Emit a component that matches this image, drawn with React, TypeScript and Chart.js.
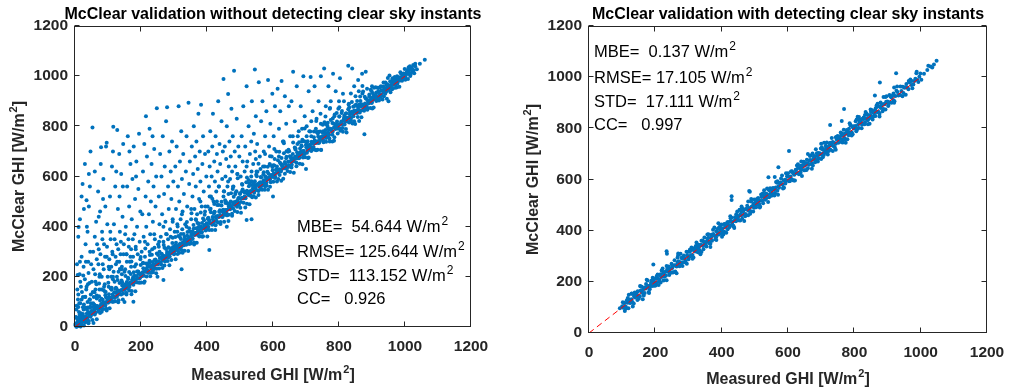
import React, { useEffect, useRef } from "react";
import { Chart, registerables } from "chart.js";

Chart.register(...registerables);

const FONT = '"Liberation Sans", Arial, Helvetica, sans-serif';
const AXIS_COLOR = "#262626";
const POINT_COLOR = "#0072BD";

// axis ticks (both axes, both panels)
const tickValues = [0, 200, 400, 600, 800, 1000, 1200];
// 1:1 reference line end points (measured = McClear)
const refLine = [0, 1000];

const leftTitle = "McClear validation without detecting clear sky instants";
const rightTitle = "McClear validation with detecting clear sky instants";
const xTitle = "Measured GHI [W/m";
const yTitle = "McClear GHI [W/m";

const leftStats = ["MBE=  54.644", "RMSE= 125.644", "STD=  113.152", "CC=   0.926"];
const rightStats = ["MBE=  0.137", "RMSE= 17.105", "STD=  17.111", "CC=   0.997"];
const statHasUnit = [true, true, true, false];

// ---------- LEFT PANEL: [measured, mcclear] ----------
const leftScatter: [number, number][] = [
  [3,40],[5,85],[8,20],[10,130],[12,60],[14,210],[16,95],[18,160],[20,280],[22,45],[24,120],[26,240],[28,75],[30,190],[32,330],[34,150],[36,400],[38,100],[40,260],[42,480],[44,175],[46,300],[48,130],[10,360],[15,430],[20,520],[23,570],[30,650],[35,505],[42,610],[45,560],[6,250],[27,470],[38,380],[47,700],[11,399],[15,260],[8,207],
  [52,55],[54,140],[56,230],[58,90],[60,360],[62,180],[64,420],[66,270],[68,120],[70,540],[72,310],[74,200],[76,460],[78,650],[80,150],[82,380],[84,250],[86,590],[88,330],[90,170],[92,480],[94,720],[96,280],[98,410],[53,795],[79,717],[96,735],[60,620],[85,510],[72,440],
  [102,160],[104,230],[106,520],[108,350],[110,200],[112,640],[114,290],[116,798],[118,410],[120,180],[122,560],[124,250],[126,330],[128,785],[130,470],[132,220],[134,690],[136,380],[138,290],[140,610],[142,240],[144,440],[146,730],[148,330],[115,700],[125,620],[135,520],[145,560],
  [152,230],[154,400],[156,290],[158,560],[160,760],[162,350],[164,480],[166,260],[168,650],[170,310],[172,430],[174,590],[176,280],[178,720],[180,370],[182,510],[184,320],[186,660],[188,400],[190,290],[192,550],[194,770],[196,340],[198,460],[165,700],[185,600],
  [202,300],[204,450],[206,620],[208,360],[210,730],[212,280],[214,520],[216,400],[218,680],[220,330],[222,580],[224,450],[226,790],[228,370],[230,500],[232,650],[234,310],[236,420],[238,560],[240,710],[242,350],[244,480],[246,600],[248,872],[215,840],[235,760],
  [252,330],[254,520],[256,410],[258,690],[260,360],[262,600],[264,450],[266,760],[268,340],[270,530],[272,640],[274,420],[276,820],[278,370],[279,876],[282,560],[284,470],[286,700],[288,390],[290,620],[292,510],[294,740],[296,430],[298,580],
  [302,380],[304,640],[306,470],[308,720],[310,410],[312,560],[314,880],[316,500],[318,660],[320,430],[322,780],[324,590],[326,460],[328,690],[330,530],[334,410],[336,620],[338,760],[340,480],[344,894],[346,570],[348,660],
  [352,430],[354,720],[356,520],[358,610],[360,800],[362,470],[364,680],[366,560],[368,740],[370,450],[372,630],[374,850],[376,510],[378,700],[380,580],[382,886],[384,480],[386,650],[388,760],[390,540],[394,690],[398,600],
  [402,480],[404,700],[406,560],[408,640],[410,780],[412,520],[414,600],[416,720],[418,850],[420,500],[422,660],[424,580],[426,760],[428,540],[430,690],[432,620],[434,900],[436,560],[438,730],[440,650],[444,820],[446,590],[448,700],[450,989],
  [452,540],[454,720],[456,600],[458,670],[460,800],[462,560],[464,929],[466,640],[468,740],[470,590],[472,680],[474,870],[476,620],[478,760],[480,560],[482,1022],[484,700],[486,640],[490,830],[492,610],[495,720],[498,680],
  [502,600],[505,760],[508,660],[510,880],[514,620],[516,720],[520,960],[522,660],[526,800],[530,690],[534,740],[536,900],[540,650],[542,770],[545,1027],[546,700],[548,840],[550,620],
  [552,730],[557,976],[560,680],[564,820],[568,900],[572,700],[576,760],[580,860],[585,985],[588,720],[592,810],[596,680],[598,930],[575,640],
  [602,760],[606,880],[610,700],[614,950],[618,790],[622,860],[626,981],[630,740],[636,920],[640,810],[645,700],[648,880],
  [652,760],[656,900],[661,1018],[666,820],[672,960],[678,780],[684,880],[692,1000],[696,840],[688,740],
  [702,800],[708,940],[714,997],[720,860],[726,960],[732,830],[738,900],[745,1000],
  [755,1031],[760,880],[768,960],[775,900],[782,1010],[790,940],[798,870],
  [803,992],[812,930],[828,1042],[840,1031],[846,960],[858,985],[870,1010],[881,1018],
];

const leftLowBlob: [number, number][] = [
  [4,70],[7,150],[9,110],[13,95],[16,180],[18,55],[21,140],[25,205],[27,90],[31,120],[33,260],[36,70],[39,170],[41,215],[44,110],[49,250],[51,180],[55,300],[57,120],[61,210],[65,170],[67,330],[71,250],[74,150],[77,290],[81,200],[83,350],[87,230],[91,280],[93,140],[97,320],[99,200],[104,270],[107,380],[110,240],[113,300],[117,220],[120,350],[123,280],[127,200],[131,310],[134,260],[139,340],[141,230],[147,290],[152,370],[157,260],[163,320],[168,280],[175,350],
];

const leftNearBand: [number, number][] = [
  [20,110],[35,160],[48,95],[62,150],[75,210],[88,160],[102,240],[115,190],[128,260],[142,210],[156,290],[170,240],[184,310],[198,270],[212,340],[226,300],[240,370],[254,320],[268,400],[282,350],[296,420],[310,380],[324,450],[338,400],[352,470],[366,430],[380,500],[394,460],[408,520],[422,490],[436,560],[450,520],[464,580],[478,550],[492,610],[506,570],[520,640],[534,600],[548,670],[562,630],[576,690],[590,650],[604,710],[618,680],[632,740],[646,700],[660,760],[674,730],[688,790],[702,760],[716,820],[730,790],[744,850],[758,810],[772,870],[786,840],[800,900],[830,890],[860,940],[900,960],
];

const leftBelow: [number, number][] = [
  [877,768],[520,427],[535,430],[407,307],[268,187],[177,101],[323,230],[600,520],[700,630],[250,200],[150,100],[460,400],[780,740],[950,900],
];

const leftUpperBandX = [
  3,10,17,24,31,38,45,52,59,66,73,80,87,94,101,108,115,122,129,136,
  143,150,157,164,171,178,185,192,199,206,213,220,227,234,241,248,255,262,269,276,
  283,290,297,304,311,318,325,332,339,346,353,360,367,374,381,388,395,402,409,416,
  423,430,437,444,451,458,465,472,479,486,493,500,507,514,521,528,535,542,549,556,
  563,570,577,584,591,598,605,612,619,626,633,640,647,654,661,668,675,682,689,696,
  703,710,717,724,731,738,745,752,759,766,773,780,787,794,801,808,815,822,829,836,
  843,850,857,864,871,878,885,892,899,906,913,920,927,934,941,948,955,962,969,976,
];
const leftUpperBandY = [
  38,80,39,79,121,78,110,80,139,114,173,113,147,119,176,153,200,152,187,231,
  178,220,179,219,261,218,250,220,279,254,313,253,287,259,316,293,340,292,327,371,
  318,360,319,359,401,358,390,360,419,394,453,393,427,399,456,433,480,432,467,511,
  458,500,459,499,541,498,530,500,559,534,593,533,567,539,596,573,620,572,607,651,
  598,640,599,639,681,638,670,640,699,674,733,673,707,679,736,713,760,712,747,791,
  738,780,739,779,821,778,810,780,839,814,873,813,847,819,876,853,900,852,887,931,
  878,920,879,919,961,918,950,920,940,954,935,953,960,959,975,993,980,992,990,1000,
];

const leftMixX = [
  6,11,16,21,26,31,36,41,46,51,56,61,66,71,76,81,86,91,96,101,106,111,116,
  121,126,131,136,141,146,151,156,161,166,171,176,181,186,191,196,201,206,211,216,221,226,231,
  236,241,246,251,256,261,266,271,276,281,286,291,296,301,306,311,316,321,326,331,336,341,346,
  351,356,361,366,371,376,381,386,391,396,401,406,411,416,421,426,431,436,441,446,451,456,461,
  466,471,476,481,486,491,496,501,506,511,516,521,526,531,536,541,546,551,556,561,566,571,576,
  581,586,591,596,601,606,611,616,621,626,631,636,641,646,651,656,661,666,671,676,681,686,691,
  696,701,706,711,716,721,726,731,736,741,746,751,756,761,766,771,776,781,786,791,796,801,806,
  811,816,821,826,831,836,841,846,851,856,861,866,871,876,881,886,891,896,901,906,911,916,921,
  926,931,936,941,946,951,956,961,966,971,976,981,986,991,996,1001,1006,1011,1016,1021,1026,1031,1036,
];
const leftMixY = [
  2,37,3,29,70,19,54,15,81,53,16,83,126,63,106,61,98,141,66,117,102,149,101,
  103,152,99,144,185,134,169,130,196,168,131,198,241,178,221,176,213,256,181,232,217,264,216,
  218,267,214,259,300,249,284,245,311,283,246,313,356,293,336,291,328,371,296,347,332,379,331,
  333,382,329,374,415,364,399,360,426,398,361,428,471,408,451,406,443,486,411,462,447,494,446,
  448,497,444,489,530,479,514,475,541,513,476,543,586,523,566,521,558,601,526,577,562,609,561,
  563,612,559,604,645,594,629,590,656,628,591,658,701,638,681,636,673,716,641,692,677,724,676,
  678,727,674,719,760,709,744,705,771,743,706,773,816,753,796,751,788,831,756,807,792,839,791,
  793,842,789,834,875,824,859,820,886,858,821,888,931,868,911,866,903,946,871,922,907,954,906,
  917,944,920,945,968,945,965,948,984,972,956,992,1016,987,1011,991,1012,1036,1001,1029,1024,1050,1028,
];

const leftBand: [number, number][] = [
  [2,14],[5,3],[7,32],[9,4],[12,17],[14,49],[17,2],[19,37],[22,19],[24,52],[27,6],[29,38],[32,77],[34,22],[37,39],[40,60],[42,24],[45,77],[47,41],[50,64],[53,28],[55,95],[58,65],[60,50],[63,85],[66,31],[68,84],[71,74],[73,123],[76,56],
  [79,91],[81,73],[84,109],[87,72],[89,94],[92,127],[95,73],[97,115],[100,97],[103,131],[105,75],[108,117],[111,156],[113,101],[116,118],[119,139],[121,103],[124,156],[127,121],[129,143],[132,107],[135,175],[137,144],[140,130],[143,165],[145,110],[148,164],[151,154],[153,203],[156,136],
  [159,154],[161,191],[164,146],[167,177],[169,211],[172,144],[175,190],[177,168],[180,204],[183,143],[185,191],[188,221],[191,177],[193,212],[196,194],[199,247],[201,177],[204,215],[207,234],[209,176],[212,220],[215,253],[217,201],[220,241],[223,216],[225,255],[228,202],[231,244],[233,288],[236,225],
  [239,251],[241,233],[244,269],[247,232],[249,254],[252,287],[255,233],[257,275],[260,257],[263,291],[265,235],[268,277],[271,316],[273,261],[276,278],[279,299],[281,263],[284,316],[287,281],[289,303],[292,267],[295,335],[297,304],[300,290],[303,325],[305,270],[308,324],[311,314],[313,363],[316,296],
  [319,314],[321,351],[324,306],[327,337],[329,371],[332,304],[335,350],[337,328],[340,364],[343,303],[345,351],[348,381],[351,337],[353,372],[356,354],[359,407],[361,337],[364,375],[367,394],[369,336],[372,380],[375,413],[377,361],[380,401],[383,376],[385,415],[388,362],[391,404],[393,448],[396,385],
  [399,414],[401,389],[404,436],[407,387],[409,415],[412,457],[415,387],[417,439],[420,415],[423,459],[425,387],[428,438],[431,486],[433,417],[436,439],[439,465],[441,419],[444,484],[447,439],[449,467],[452,420],[455,505],[457,466],[460,446],[463,491],[465,423],[468,488],[471,475],[473,533],[476,451],
  [479,473],[481,519],[484,462],[487,499],[489,541],[492,458],[495,513],[497,487],[500,530],[503,455],[505,513],[508,548],[511,495],[513,537],[516,513],[519,577],[521,491],[524,538],[527,561],[529,489],[532,542],[535,581],[537,517],[540,566],[543,535],[545,581],[548,516],[551,567],[553,619],[556,542],
  [559,574],[561,549],[564,596],[567,547],[569,575],[572,617],[575,547],[577,599],[580,575],[583,619],[585,547],[588,598],[591,646],[593,577],[596,599],[599,625],[601,579],[604,644],[607,599],[609,627],[612,580],[615,665],[617,626],[620,606],[623,651],[625,583],[628,648],[631,635],[633,693],[636,611],
  [639,633],[641,679],[644,622],[647,659],[649,701],[652,618],[655,673],[657,647],[660,690],[663,615],[665,673],[668,708],[671,655],[673,697],[676,673],[679,737],[681,651],[684,698],[687,721],[689,649],[692,702],[695,741],[697,677],[700,726],[703,695],[705,741],[708,676],[711,727],[713,779],[716,702],
  [719,734],[721,709],[724,756],[727,707],[729,735],[732,777],[735,707],[737,759],[740,735],[743,779],[745,707],[748,758],[751,806],[753,737],[756,759],[759,785],[761,739],[764,804],[767,759],[769,787],[772,740],[775,825],[777,786],[780,766],[783,811],[785,743],[788,808],[791,795],[793,853],[796,771],
  [799,793],[801,839],[804,782],[807,819],[809,861],[812,778],[815,833],[817,807],[820,850],[823,775],[825,833],[828,868],[831,815],[833,857],[836,833],[839,897],[841,811],[844,858],[847,881],[849,809],[852,862],[855,901],[857,837],[860,886],[863,855],[865,901],[868,836],[871,887],[873,939],[876,862],
  [879,891],[881,873],[884,909],[887,872],[889,894],[892,927],[895,873],[897,915],[900,897],[903,931],[905,875],[908,917],[911,956],[913,901],[916,918],[919,939],[921,903],[924,956],[927,921],[929,943],[932,907],[935,975],[937,944],[940,930],[943,965],[945,910],[948,964],[951,954],[953,1003],[956,936],
  [959,954],[961,981],[964,952],[967,975],[969,997],[972,954],[975,985],[977,971],[980,996],[983,958],[985,989],[988,1010],[991,982],[993,1006],[996,994],[999,1029],[1001,986],[1004,1011],[1007,1025],[1009,989],[1012,1017],[1015,1040],[1017,1007],[1020,1034],[1023,1018],[1025,1045],[1028,1012],[1031,1040],[1045,1050],[1060,1065],
];

const leftCoreX = [
  1,4,8,11,15,19,22,26,30,33,37,41,44,48,52,55,59,63,66,70,
  74,77,81,85,88,92,96,99,103,107,110,114,118,121,125,129,132,136,140,143,
  147,151,154,158,162,165,169,173,176,180,184,187,191,195,198,202,206,209,213,217,
  220,224,228,231,235,239,242,246,250,253,257,261,264,268,272,275,279,283,286,290,
  294,297,301,305,308,312,316,319,323,327,330,334,338,341,345,349,352,356,360,363,
  367,371,374,378,382,385,389,393,396,400,404,407,411,415,418,422,426,429,433,437,
  440,444,448,451,455,459,462,466,470,473,477,481,484,488,492,495,499,503,506,510,
  514,517,521,525,528,532,536,539,543,547,550,554,558,561,565,569,572,576,580,583,
  587,591,594,598,602,605,609,613,616,620,624,627,631,635,638,642,646,649,653,657,
  660,664,668,671,675,679,682,686,690,693,697,701,704,708,712,715,719,723,726,730,
  734,737,741,745,748,752,756,759,763,767,770,774,778,781,785,789,792,796,800,803,
  807,811,814,818,822,825,829,833,836,840,844,847,851,855,858,862,866,869,873,877,
  880,884,888,891,895,899,902,906,910,913,917,921,924,928,932,935,939,943,946,950,
  954,957,961,965,968,972,976,979,983,987,990,994,998,1001,1005,1009,1012,1016,1020,1023,
];
const leftCoreY = [
  8,1,20,12,25,13,27,40,29,42,33,57,47,46,63,55,72,58,74,74,
  81,74,93,86,98,86,101,113,102,116,106,130,121,119,136,129,145,131,148,147,
  154,148,166,159,172,159,174,187,175,189,180,203,194,193,209,202,219,204,221,221,
  227,221,240,232,245,233,247,260,249,262,253,277,267,266,283,275,292,278,294,294,
  301,294,313,306,318,306,321,333,322,336,326,350,341,339,356,349,365,351,368,367,
  374,368,386,379,392,379,394,407,395,409,400,423,414,413,429,422,439,424,441,441,
  447,441,460,452,465,453,467,480,469,482,473,497,487,486,503,495,512,498,514,514,
  521,514,533,526,538,526,541,553,542,556,546,570,561,559,576,569,585,571,588,587,
  594,588,606,599,612,599,614,627,615,629,620,643,634,633,649,642,659,644,661,661,
  667,661,680,672,685,673,687,700,689,702,693,717,707,706,723,715,732,718,734,734,
  741,734,753,746,758,746,761,773,762,776,766,790,781,779,796,789,805,791,808,807,
  814,808,826,819,832,819,834,847,835,849,840,863,854,853,869,862,879,864,881,881,
  887,881,900,892,905,893,907,920,909,922,913,937,927,926,943,935,952,938,954,954,
  961,954,973,966,978,966,981,993,982,996,986,1010,1001,999,1016,1009,1025,1011,1028,1027,
];

// ---------- RIGHT PANEL ----------
const rightBandX = [
  100,103,108,111,116,119,124,128,131,136,139,144,147,152,155,160,163,168,171,176,
  179,184,187,192,195,200,203,208,211,216,219,224,227,232,235,240,243,248,251,256,
  259,264,267,272,275,280,283,288,291,296,299,304,307,312,315,320,323,328,331,336,
  339,344,347,352,355,360,363,368,371,376,379,384,387,392,395,400,403,408,411,416,
  419,424,427,432,435,440,443,448,451,456,459,464,467,472,475,480,483,488,491,496,
  499,504,507,512,515,520,523,528,531,536,539,544,547,552,555,560,563,568,571,576,
  579,584,587,592,595,600,603,608,611,616,619,624,627,632,635,640,643,648,651,656,
  659,664,667,672,675,680,683,688,691,696,699,704,707,712,715,720,723,728,731,736,
  739,744,747,752,755,760,763,768,771,776,779,784,787,792,795,800,803,808,811,816,
  819,824,827,832,835,840,843,848,851,856,859,864,867,872,875,880,883,888,891,896,
  900,906,912,918,924,930,936,942,948,954,960,966,972,978,984,990,996,1002,1010,1020,
];
const rightBandY = [
  105,99,117,103,118,131,118,132,121,143,139,158,144,145,165,159,169,156,174,184,
  184,180,196,184,197,212,197,212,201,223,219,238,224,225,245,239,249,236,254,264,
  264,260,276,264,277,292,277,292,281,303,299,318,304,305,325,319,329,316,334,344,
  344,340,356,344,357,372,357,372,361,383,379,398,384,385,405,399,409,396,414,424,
  424,420,436,424,437,452,437,452,441,463,459,478,464,465,485,479,489,476,494,504,
  504,500,516,504,517,532,517,532,521,543,539,558,544,545,565,559,569,556,574,584,
  584,580,596,584,597,612,597,612,601,623,619,638,624,625,645,639,649,636,654,664,
  664,660,676,664,677,692,677,692,681,703,699,718,704,705,725,719,729,716,734,744,
  744,740,756,744,757,772,757,772,761,783,779,798,784,785,805,799,809,796,814,824,
  824,820,836,824,837,852,837,852,841,863,859,878,864,865,885,879,889,876,894,904,
  905,902,921,910,926,942,930,946,938,961,960,980,969,971,994,989,1002,990,1013,1028,
];
const rightMidX = [
  105,111,117,123,129,135,141,147,153,159,165,171,177,183,189,
  195,201,207,213,219,225,231,237,243,249,255,261,267,273,279,
  285,291,297,303,309,315,321,327,333,339,345,351,357,363,369,
  375,381,387,393,399,405,411,417,423,429,435,441,447,453,459,
  465,471,477,483,489,495,501,507,513,519,525,531,537,543,549,
  555,561,567,573,579,585,591,597,603,609,615,621,627,633,639,
  645,651,657,663,669,675,681,687,693,699,705,711,717,723,729,
  735,741,747,753,759,765,771,777,783,789,795,801,807,813,819,
  825,831,837,843,849,855,861,867,873,879,885,891,897,903,909,
  915,921,927,933,939,945,951,957,963,969,975,981,987,993,999,
];
const rightMidY = [
  117,96,137,118,154,115,149,163,143,181,147,175,205,171,204,
  207,186,227,208,244,205,239,253,233,271,237,265,295,261,294,
  297,276,317,298,334,295,329,343,323,361,327,355,385,351,384,
  387,366,407,388,424,385,419,433,413,451,417,445,475,441,474,
  477,456,497,478,514,475,509,523,503,541,507,535,565,531,564,
  567,546,587,568,604,565,599,613,593,631,597,625,655,621,654,
  657,636,677,658,694,655,689,703,683,721,687,715,745,711,744,
  747,726,767,748,784,745,779,793,773,811,777,805,835,801,834,
  837,816,857,838,874,835,869,883,863,901,867,895,925,891,924,
  927,906,947,928,964,925,959,973,953,991,957,985,1015,981,1014,
];
const rightSpreadX = [
  108,114,120,126,132,138,144,150,156,162,168,174,180,186,192,198,204,
  210,216,222,228,234,240,246,252,258,264,270,276,282,288,294,300,306,
  312,318,324,330,336,342,348,354,360,366,372,378,384,390,396,402,408,
  414,420,426,432,438,444,450,456,462,468,474,480,486,492,498,504,510,
  516,522,528,534,540,546,552,558,564,570,576,582,588,594,600,606,612,
  618,624,630,636,642,648,654,660,666,672,678,684,690,696,702,708,714,
  720,726,732,738,744,750,756,762,768,774,780,786,792,798,804,810,816,
  822,828,834,840,846,852,858,864,870,876,882,888,894,900,906,912,918,
];
const rightSpreadY = [
  86,128,150,118,104,158,150,134,182,132,178,208,160,188,216,186,222,
  188,230,252,220,206,260,252,236,284,234,280,310,262,290,318,288,324,
  290,332,354,322,308,362,354,338,386,336,382,412,364,392,420,390,426,
  392,434,456,424,410,464,456,440,488,438,484,514,466,494,522,492,528,
  494,536,558,526,512,566,558,542,590,540,586,616,568,596,624,594,630,
  596,638,660,628,614,668,660,644,692,642,688,718,670,698,726,696,732,
  698,740,762,730,716,770,762,746,794,744,790,820,772,800,828,798,834,
  800,842,864,832,818,872,864,848,896,846,892,922,874,902,930,900,936,
];
const rightWideX = [
  102,110,119,128,137,146,154,163,172,181,190,198,207,216,225,234,242,251,260,269,278,286,295,304,313,
  322,330,339,348,357,366,374,383,392,401,410,418,427,436,445,454,462,471,480,489,498,506,515,524,533,
  542,550,559,568,577,586,594,603,612,621,630,638,647,656,665,674,682,691,700,709,718,726,735,744,753,
  762,770,779,788,797,806,814,823,832,841,850,858,867,876,885,894,902,911,920,929,938,946,955,964,973,
];
const rightWideY = [
  120,96,97,153,148,129,184,154,192,156,205,186,229,197,234,262,227,264,240,304,270,303,271,325,325,
  340,316,317,373,368,349,404,374,412,376,425,406,449,417,454,482,447,484,460,524,490,523,491,545,545,
  560,536,537,593,588,569,624,594,632,596,645,626,669,637,674,702,667,704,680,744,710,743,711,765,765,
  780,756,757,813,808,789,844,814,852,816,865,846,889,857,894,922,887,924,900,964,930,963,931,985,985,
];
const rightOutliers: [number, number][] = [
  [93,97],[194,268],[234,320],[235,310],[269,311],[390,429],[430,535],[430,520],[460,494],[483,555],[485,552],[541,609],[571,648],[603,711],
  [727,813],[762,829],[769,876],[862,928],[877,979],[926,1015],[988,1021],[1023,1045],[1030,1042],[1035,1038],[1040,1050],[1048,1064],
  [330,345],[560,610],[640,670],[660,700],[700,740],[810,845],[920,960],
];

type Part = { t: string; sup?: boolean };

function drawParts(ctx: CanvasRenderingContext2D, parts: Part[], x: number, y: number, size: number, weight: string, align: "left" | "center") {
  const supSize = Math.round(size * 0.7);
  const widths = parts.map((p) => {
    ctx.font = `${weight} ${p.sup ? supSize : size}px ${FONT}`;
    return ctx.measureText(p.t).width + (p.sup ? 1 : 0);
  });
  const total = widths.reduce((a, b) => a + b, 0);
  let cx = align === "center" ? x - total / 2 : x;
  ctx.textAlign = "left";
  ctx.textBaseline = "alphabetic";
  parts.forEach((p, i) => {
    ctx.font = `${weight} ${p.sup ? supSize : size}px ${FONT}`;
    ctx.fillText(p.t, cx + (p.sup ? 1 : 0), p.sup ? y - size * 0.45 : y);
    cx += widths[i];
  });
}

type PanelCfg = {
  title: string;
  stats: string[];
  statX: number;
  statBaselines: number[];
  padRight: number;
  yWidth: number;
  xHeight: number;
  xTitleBaseline: number;
  yTitleX: number;
  points: { x: number; y: number }[];
};

function ScatterPanel({ cfg, left }: { cfg: PanelCfg; left: number }) {
  const ref = useRef<HTMLCanvasElement | null>(null);
  useEffect(() => {
    if (!ref.current) return;
    const decor = {
      id: "decor",
      afterDraw(chart: any) {
        const { ctx, chartArea: a, scales } = chart;
        const sx = scales.x, sy = scales.y;
        ctx.save();
        ctx.strokeStyle = AXIS_COLOR;
        ctx.lineWidth = 1;
        const L = Math.round(a.left) - 0.5, R = Math.round(a.right) - 0.5;
        const T = Math.round(a.top) + 0.5, B = Math.round(a.bottom) - 0.5;
        ctx.strokeRect(L, T, R - L, B - T);
        ctx.beginPath();
        tickValues.forEach((v) => {
          const px = Math.round(sx.getPixelForValue(v)) - 0.5;
          ctx.moveTo(px, B); ctx.lineTo(px, B - 5);
          ctx.moveTo(px, T); ctx.lineTo(px, T + 5);
          const py = Math.round(sy.getPixelForValue(v)) - 0.5;
          ctx.moveTo(L, py); ctx.lineTo(L + 5, py);
          ctx.moveTo(R, py); ctx.lineTo(R - 5, py);
        });
        ctx.stroke();

        // title
        ctx.fillStyle = "#000";
        ctx.font = `bold 16px ${FONT}`;
        ctx.textAlign = "center";
        ctx.textBaseline = "alphabetic";
        ctx.fillText(cfg.title, (a.left + a.right) / 2, 19);

        // axis titles
        ctx.fillStyle = AXIS_COLOR;
        drawParts(ctx, [{ t: xTitle }, { t: "2", sup: true }, { t: "]" }], (a.left + a.right) / 2, cfg.xTitleBaseline, 16, "bold", "center");
        ctx.save();
        ctx.translate(cfg.yTitleX, (a.top + a.bottom) / 2);
        ctx.rotate(-Math.PI / 2);
        drawParts(ctx, [{ t: yTitle }, { t: "2", sup: true }, { t: "]" }], 0, 0, 16, "bold", "center");
        ctx.restore();

        // statistics
        ctx.fillStyle = "#000";
        cfg.stats.forEach((s, i) => {
          const parts: Part[] = statHasUnit[i] ? [{ t: s + " W/m" }, { t: "2", sup: true }] : [{ t: s }];
          drawParts(ctx, parts, cfg.statX, cfg.statBaselines[i], 16.5, "normal", "left");
        });
        ctx.restore();
      },
    };

    const axisOpts = (isX: boolean) => ({
      type: "linear" as const,
      min: tickValues[0],
      max: tickValues[tickValues.length - 1],
      afterBuildTicks: (s: any) => {
        s.ticks = tickValues.map((v) => ({ value: v }));
      },
      ticks: {
        callback: (v: any) => String(v),
        font: { family: FONT, size: 15.5, weight: "bold" as const },
        color: AXIS_COLOR,
        padding: isX ? 10 : 7,
        maxRotation: 0,
        autoSkip: false,
      },
      grid: { display: false, drawTicks: false },
      border: { display: false },
      afterFit: (s: any) => {
        if (isX) s.height = cfg.xHeight;
        else s.width = cfg.yWidth;
      },
    });

    const chart = new Chart(ref.current, {
      type: "scatter",
      data: {
        datasets: [
          {
            type: "line" as any,
            data: refLine.map((v) => ({ x: v, y: v })),
            borderColor: "#FF0000",
            borderWidth: 1,
            borderDash: [6, 4],
            pointRadius: 0,
            fill: false,
          } as any,
          {
            data: cfg.points,
            pointRadius: 2,
            pointBackgroundColor: POINT_COLOR,
            pointBorderWidth: 0,
            clip: false,
          } as any,
        ],
      },
      options: {
        responsive: false,
        animation: false,
        events: [],
        layout: { padding: { left: 0, top: 26, right: cfg.padRight, bottom: 0 } },
        plugins: { legend: { display: false }, tooltip: { enabled: false }, title: { display: false } },
        scales: { x: axisOpts(true) as any, y: axisOpts(false) as any },
      },
      plugins: [decor],
    });
    return () => chart.destroy();
  }, [cfg]);
  return (
    <canvas
      ref={ref}
      width={508}
      height={388}
      style={{ position: "absolute", left, top: 0, width: 508, height: 388 }}
    />
  );
}

const toPts = (pairs: [number, number][]) => pairs.map(([x, y]) => ({ x, y }));
const zipPts = (xs: number[], ys: number[]) => xs.map((x, i) => ({ x, y: ys[i] }));

const leftCfg: PanelCfg = {
  title: leftTitle,
  stats: leftStats,
  statX: 297,
  statBaselines: [232, 257, 281, 304],
  padRight: 37,
  yWidth: 75,
  xHeight: 61,
  xTitleBaseline: 380,
  yTitleX: 24,
  points: [
    ...toPts(leftScatter),
    ...toPts(leftLowBlob),
    ...toPts(leftNearBand),
    ...toPts(leftBelow),
    ...zipPts(leftUpperBandX, leftUpperBandY),
    ...zipPts(leftMixX, leftMixY),
    ...toPts(leftBand),
    ...zipPts(leftCoreX, leftCoreY),
  ],
};

const rightCfg: PanelCfg = {
  title: rightTitle,
  stats: rightStats,
  statX: 86,
  statBaselines: [57, 83, 107, 130],
  padRight: 29,
  yWidth: 81,
  xHeight: 55,
  xTitleBaseline: 384,
  yTitleX: 30,
  points: [
    ...zipPts(rightBandX, rightBandY),
    ...zipPts(rightMidX, rightMidY),
    ...zipPts(rightSpreadX, rightSpreadY),
    ...zipPts(rightWideX, rightWideY),
    ...toPts(rightOutliers),
  ],
};

export default function App() {
  return (
    <div style={{ position: "fixed", left: 0, top: 0, width: 1016, height: 388, background: "#fff", overflow: "hidden" }}>
      <ScatterPanel cfg={leftCfg} left={0} />
      <ScatterPanel cfg={rightCfg} left={508} />
    </div>
  );
}
